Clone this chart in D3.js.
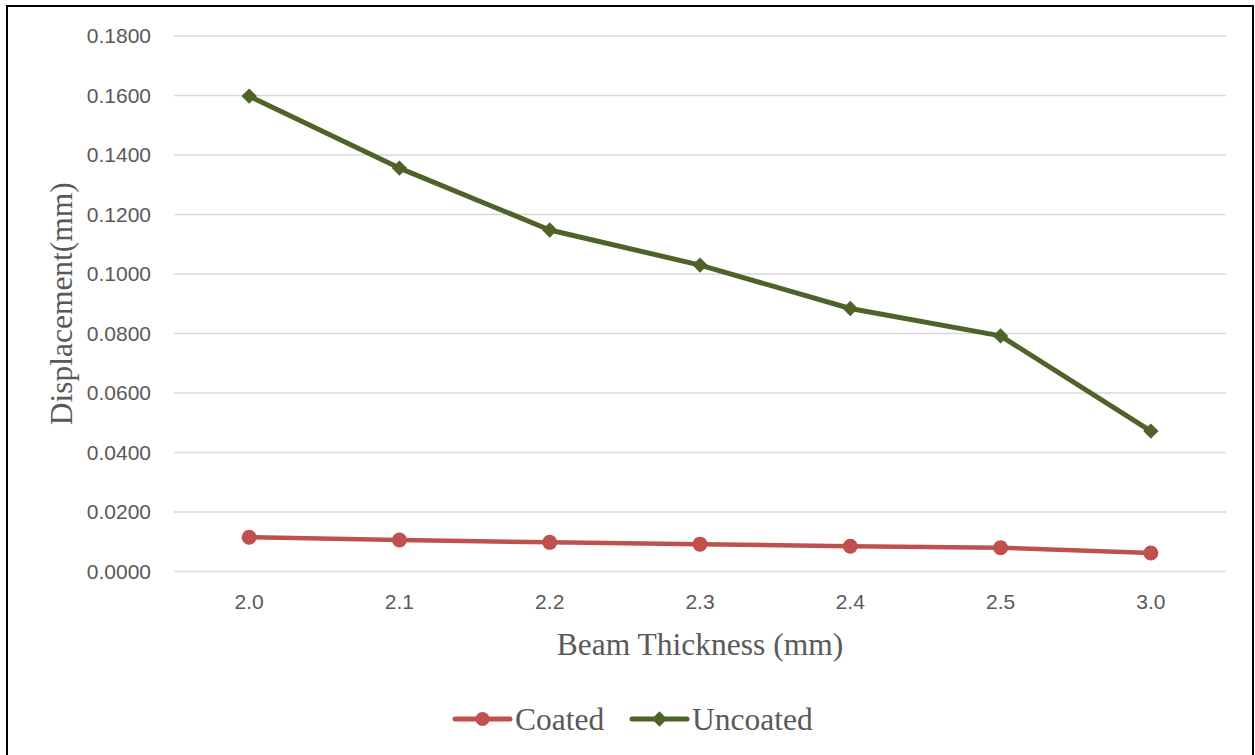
<!DOCTYPE html>
<html>
<head>
<meta charset="utf-8">
<script src="https://cdn.jsdelivr.net/npm/d3@7"></script>
<style>
  html, body { margin: 0; padding: 0; background: #fff; }
  svg { display: block; }
</style>
</head>
<body>
<svg id="chart" width="1255" height="755"></svg>
<script>
// Beam thickness categories (mm)
const categories = ["2.0", "2.1", "2.2", "2.3", "2.4", "2.5", "3.0"];
// Displacement (mm) per thickness
const coated   = [0.0115, 0.0106, 0.0098, 0.0092, 0.0085, 0.0080, 0.0062];
const uncoated = [0.1598, 0.1356, 0.1148, 0.1030, 0.0884, 0.0792, 0.0472];
const yTicks = [0, 0.02, 0.04, 0.06, 0.08, 0.10, 0.12, 0.14, 0.16, 0.18];

const colors = { Coated: "#C0504D", Uncoated: "#4F6228" };

const svg = d3.select("#chart");

// Outer frame
svg.append("rect")
  .attr("x", 7).attr("y", 6)
  .attr("width", 1246).attr("height", 760)
  .attr("fill", "#fff").attr("stroke", "#000").attr("stroke-width", 2);

const plot = { left: 174, right: 1226, top: 36, bottom: 571.5 };

const x = d3.scaleBand().domain(categories).range([plot.left, plot.right]);
const y = d3.scaleLinear().domain([0, 0.18]).range([plot.bottom, plot.top]);

// Gridlines
svg.append("g").selectAll("line").data(yTicks).join("line")
  .attr("x1", plot.left).attr("x2", plot.right)
  .attr("y1", d => y(d)).attr("y2", d => y(d))
  .attr("stroke", "#d9d9d9").attr("stroke-width", 1.5);

// Y axis labels
const yAxis = d3.axisLeft(y).tickValues(yTicks).tickFormat(d3.format(".4f")).tickSize(0).tickPadding(23);
const gy = svg.append("g").attr("transform", `translate(${plot.left},0)`).call(yAxis);
gy.select(".domain").remove();
gy.selectAll("text")
  .attr("fill", "#595959")
  .style("font-family", "'Liberation Sans', Arial, sans-serif")
  .style("font-size", "21px");

// X axis labels
const xAxis = d3.axisBottom(x).tickSize(0).tickPadding(23);
const gx = svg.append("g").attr("transform", `translate(0,${plot.bottom})`).call(xAxis);
gx.select(".domain").remove();
gx.selectAll("text")
  .attr("fill", "#595959")
  .style("font-family", "'Liberation Sans', Arial, sans-serif")
  .style("font-size", "21px");

// Axis titles
svg.append("text")
  .attr("x", (plot.left + plot.right) / 2).attr("y", 655)
  .attr("text-anchor", "middle")
  .attr("fill", "#595959")
  .style("font-family", "'Liberation Serif', 'Times New Roman', serif")
  .style("font-size", "31.5px")
  .text("Beam Thickness (mm)");

svg.append("text")
  .attr("transform", `translate(72,${(plot.top + plot.bottom) / 2}) rotate(-90)`)
  .attr("text-anchor", "middle")
  .attr("fill", "#595959")
  .style("font-family", "'Liberation Serif', 'Times New Roman', serif")
  .style("font-size", "31.5px")
  .text("Displacement(mm)");

// Series lines and markers
const line = d3.line()
  .x((d, i) => x(categories[i]) + x.bandwidth() / 2)
  .y(d => y(d));

const diamond = d3.symbol().type(d3.symbolDiamond2).size(150);

function drawSeries(values, name) {
  const g = svg.append("g");
  g.append("path").datum(values)
    .attr("d", line)
    .attr("fill", "none")
    .attr("stroke", colors[name])
    .attr("stroke-width", name === "Coated" ? 4.5 : 5)
    .attr("stroke-linejoin", "round")
    .attr("stroke-linecap", "round");
  const pts = g.selectAll(".pt").data(values).join("g")
    .attr("transform", (d, i) => `translate(${x(categories[i]) + x.bandwidth() / 2},${y(d)})`);
  if (name === "Coated") {
    pts.append("circle").attr("r", 7.5).attr("fill", colors[name]);
  } else {
    pts.append("path").attr("d", diamond).attr("fill", colors[name]);
  }
}
drawSeries(coated, "Coated");
drawSeries(uncoated, "Uncoated");

// Legend
const legendItems = [
  { name: "Coated", x: 455 },
  { name: "Uncoated", x: 632 }
];
const legendY = 719;
const lg = svg.append("g");
legendItems.forEach(it => {
  const c = colors[it.name];
  lg.append("line")
    .attr("x1", it.x).attr("x2", it.x + 55)
    .attr("y1", legendY).attr("y2", legendY)
    .attr("stroke", c).attr("stroke-width", 5).attr("stroke-linecap", "round");
  if (it.name === "Coated") {
    lg.append("circle").attr("cx", it.x + 27.5).attr("cy", legendY).attr("r", 7).attr("fill", c);
  } else {
    lg.append("path").attr("d", diamond)
      .attr("transform", `translate(${it.x + 27.5},${legendY})`).attr("fill", c);
  }
  lg.append("text")
    .attr("x", it.x + 60).attr("y", legendY + 11)
    .attr("fill", "#595959")
    .style("font-family", "'Liberation Serif', 'Times New Roman', serif")
    .style("font-size", "31.5px")
    .text(it.name);
});
</script>
</body>
</html>
